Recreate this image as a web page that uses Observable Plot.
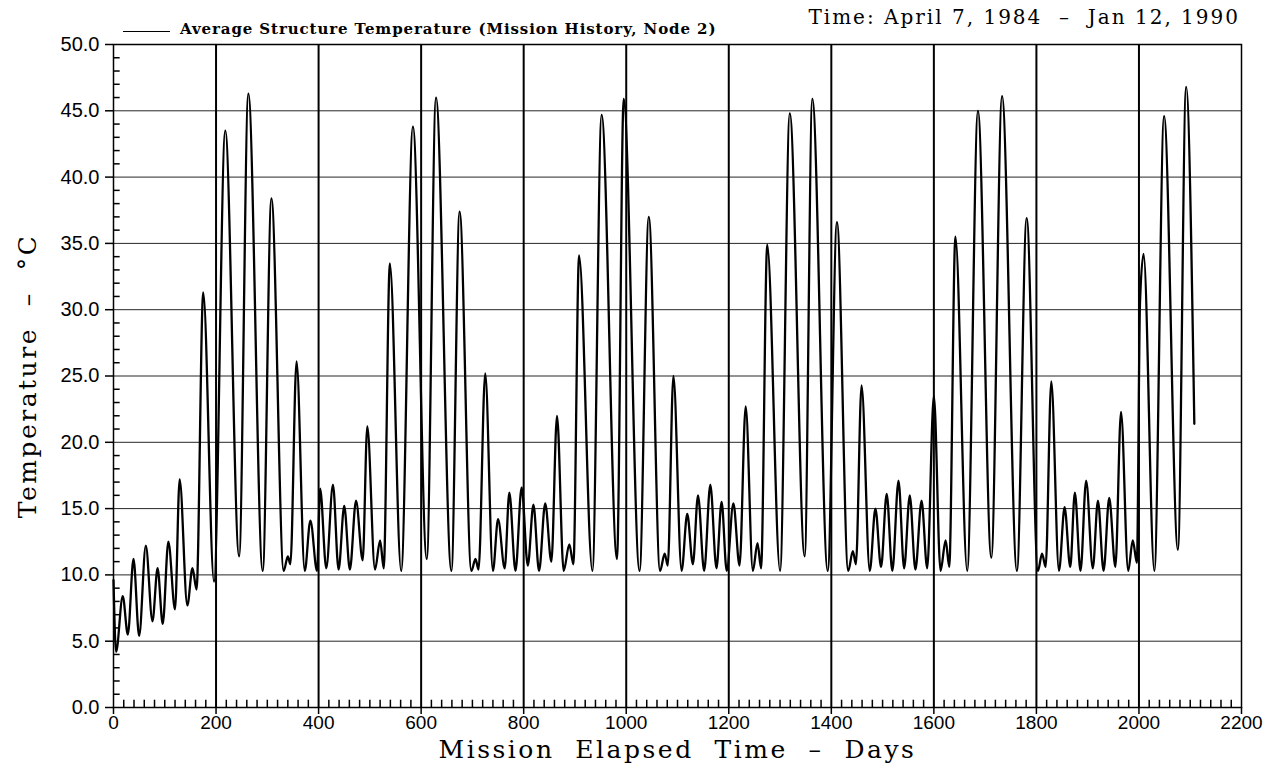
<!DOCTYPE html>
<html>
<head>
<meta charset="utf-8">
<script src="https://cdn.jsdelivr.net/npm/d3@7"></script>
<script src="https://cdn.jsdelivr.net/npm/@observablehq/plot@0.6"></script>
<style>
  html, body { margin: 0; padding: 0; background: white; }
  #wrap { position: relative; width: 1270px; height: 768px; overflow: hidden; }
  #legend-line { position: absolute; left: 123px; top: 31px; width: 47px; border-top: 1.5px solid black; z-index: 2; }
  #legend-text { position: absolute; left: 180px; top: 20px; font-family: "DejaVu Serif", serif; font-weight: bold; font-size: 15px; letter-spacing: 0.9px; color: black; white-space: nowrap; z-index: 2; }
  #time-text { position: absolute; right: 30px; top: 5px; font-family: "DejaVu Serif", serif; font-size: 20px; letter-spacing: 2px; color: black; white-space: nowrap; z-index: 2; }
</style>
</head>
<body>
<div id="wrap">
  <div id="legend-line"></div>
  <div id="legend-text">Average Structure Temperature (Mission History, Node 2)</div>
  <div id="time-text">Time: April 7, 1984 &nbsp;–&nbsp; Jan 12, 1990</div>
</div>
<script>
// Mission elapsed time (days) at the extrema of the curve
const days = [
  0, 5, 18, 28, 39, 50, 63, 76, 86, 96, 107, 120, 129, 144, 154, 162,
  175, 196, 218, 245, 263, 291, 308, 332, 340, 345, 357, 373, 384, 397,
  403, 415, 428, 439, 450, 461, 473, 486, 495, 510, 520, 527, 539, 561,
  584, 611, 629, 659, 675, 698, 706, 712, 725, 740, 750, 763, 772, 784,
  796, 808, 819, 830, 842, 854, 865, 878, 889, 897, 908, 934, 952, 982,
  995, 1026, 1044, 1066, 1075, 1081, 1092, 1108, 1119, 1130, 1140, 1152,
  1164, 1176, 1186, 1196, 1209, 1221, 1233, 1247, 1256, 1263, 1275, 1300,
  1319, 1348, 1363, 1393, 1411, 1433, 1442, 1448, 1459, 1475, 1486, 1497,
  1508, 1519, 1531, 1542, 1553, 1564, 1576, 1587, 1600, 1613, 1623, 1630,
  1642, 1665, 1686, 1712, 1733, 1762, 1781, 1803, 1811, 1818, 1829, 1844,
  1855, 1866, 1875, 1886, 1897, 1910, 1920, 1931, 1942, 1954, 1965, 1979,
  1988, 1996, 2002, 2009, 2030, 2049, 2076, 2092, 2108
];
// Average structure temperature (°C) at those days
const temps = [
  9.6, 4.2, 8.4, 5.5, 11.2, 5.4, 12.2, 6.5, 10.5, 6.3, 12.5, 7.4, 17.2, 7.7, 10.5, 8.9,
  31.3, 9.5, 43.5, 11.4, 46.3, 10.3, 38.4, 10.3, 11.4, 10.8, 26.1, 10.3, 14.1, 10.3,
  16.5, 10.5, 16.8, 10.4, 15.2, 10.4, 15.6, 11.1, 21.2, 10.4, 12.6, 10.5, 33.5, 10.3,
  43.8, 11.2, 46.0, 10.3, 37.4, 10.3, 11.2, 10.4, 25.2, 10.3, 14.2, 10.5, 16.2, 10.3,
  16.6, 10.7, 15.3, 10.3, 15.4, 11.0, 22.0, 10.3, 12.3, 10.8, 34.1, 10.3, 44.7, 11.2,
  45.9, 10.3, 37.0, 10.3, 11.6, 10.7, 25.0, 10.3, 14.6, 10.8, 16.0, 10.3,
  16.8, 10.5, 15.5, 10.3, 15.4, 10.7, 22.7, 10.3, 12.4, 10.5, 34.9, 10.3,
  44.8, 11.4, 45.9, 10.3, 36.6, 10.3, 11.8, 10.8, 24.3, 10.3, 15.0, 10.6,
  16.1, 10.3, 17.1, 10.5, 16.0, 10.4, 15.6, 10.5, 23.5, 10.3, 12.6, 10.6,
  35.5, 10.3, 45.0, 11.3, 46.1, 10.3, 36.9, 10.3, 11.6, 10.6, 24.6, 10.3,
  15.1, 10.6, 16.2, 10.3, 17.1, 10.5, 15.6, 10.3, 15.8, 10.6, 22.3, 10.3,
  12.6, 10.9, 30.5, 34.2, 10.3, 44.6, 11.9, 46.8, 21.4
];

const xTicks = [0, 200, 400, 600, 800, 1000, 1200, 1400, 1600, 1800, 2000, 2200];
const yTicks = [0, 5, 10, 15, 20, 25, 30, 35, 40, 45, 50];
const xGridLines = [200, 400, 600, 800, 1000, 1200, 1400, 1600, 1800, 2000];
const yGridLines = [5, 10, 15, 20, 25, 30, 35, 40, 45];
const xMinorTicks = d3.range(20, 2200, 20).filter(d => d % 200 !== 0);
const yMinorTicks = d3.range(1, 50, 1).filter(d => d % 5 !== 0);
const yTitle = "Temperature  –  °C";
const xTitle = "Mission  Elapsed  Time  –  Days";

const data = days.map((d, i) => ({day: d, temp: temps[i]}));

const chart = Plot.plot({
  width: 1270,
  height: 768,
  marginLeft: 113,
  marginRight: 29,
  marginTop: 44,
  marginBottom: 61,
  x: {domain: [0, 2200]},
  y: {domain: [0, 50]},
  style: {background: "white", color: "black", fontFamily: "Liberation Sans, Arial, sans-serif"},
  marks: [
    Plot.ruleY(yGridLines, {stroke: "black", strokeWidth: 1, strokeOpacity: 0.85}),
    Plot.ruleX(xGridLines, {stroke: "black", strokeWidth: 2}),
    Plot.ruleX(xMinorTicks, {y1: 0, y2: 0.55, stroke: "black", strokeWidth: 1.5}),
    Plot.ruleY(yMinorTicks, {x1: 0, x2: 13, stroke: "black", strokeWidth: 1.5}),
    Plot.line(data, {x: "day", y: "temp", curve: "monotone-x", stroke: "black", strokeWidth: 2.3}),
    Plot.frame({stroke: "black", strokeWidth: 1.5}),
    Plot.axisY({ticks: yTicks, tickFormat: d => d.toFixed(1), tickSize: 8, tickPadding: 6, fontSize: 20, strokeWidth: 1.5, label: null}),
    Plot.axisX({ticks: xTicks, tickFormat: d => String(d), tickSize: 7, tickPadding: 1, fontSize: 19, strokeWidth: 1.5, label: null}),
    Plot.text([yTitle], {text: d => d, frameAnchor: "left", textAnchor: "middle", rotate: -90, dx: -86, fontSize: 25, fontFamily: "DejaVu Serif, serif", fill: "black"}),
    Plot.text([xTitle], {text: d => d, frameAnchor: "bottom", textAnchor: "middle", dy: 50, fontSize: 25, fontFamily: "DejaVu Serif, serif", fill: "black"})
  ]
});

document.getElementById("wrap").prepend(chart);
d3.select(chart).style("position", "absolute").style("left", "0px").style("top", "0px");
d3.select(chart).selectAll("text").filter(function() {
  const t = this.textContent;
  return t.includes("Temperature") || t.includes("Mission");
}).style("letter-spacing", "2.5px");
</script>
</body>
</html>
